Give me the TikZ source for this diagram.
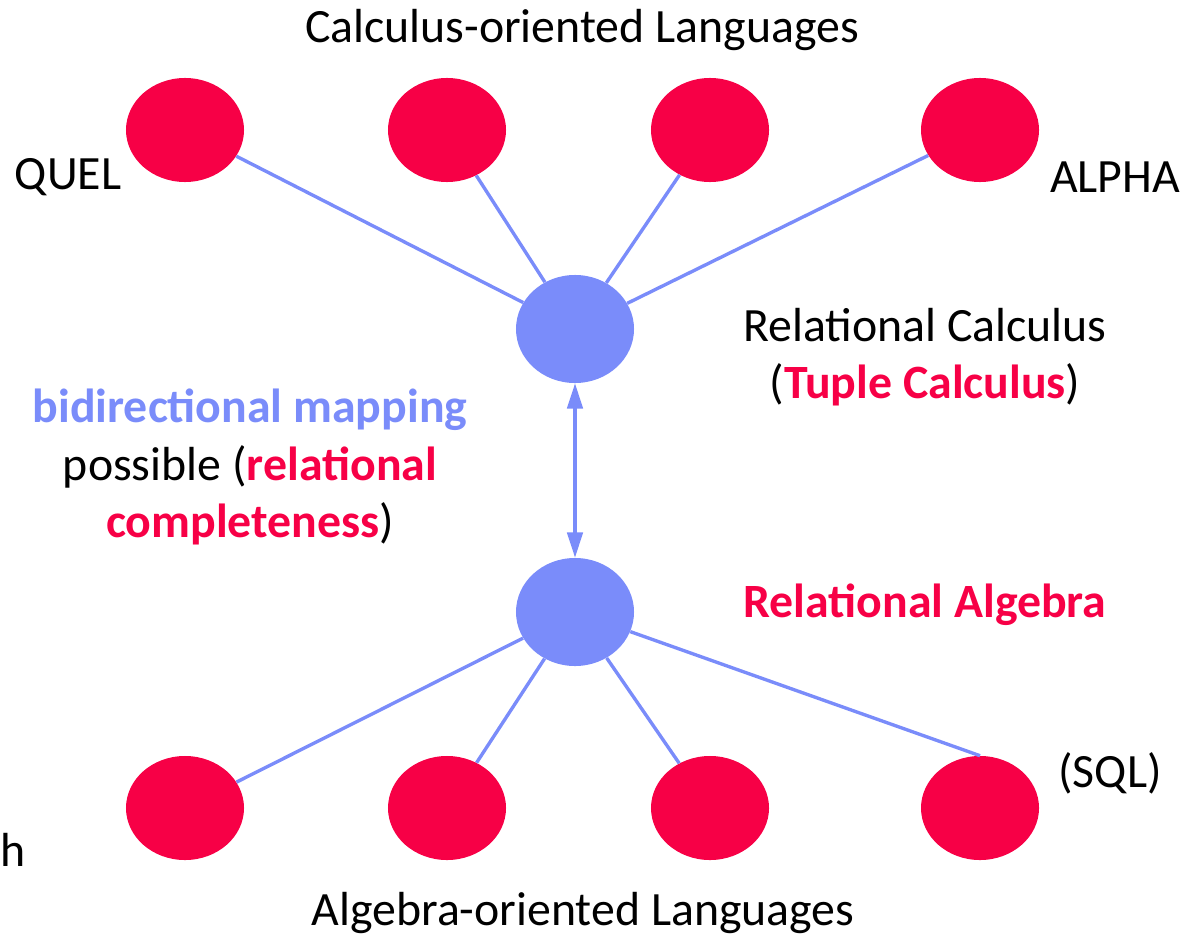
\documentclass[tikz,border=0pt]{standalone}
\usepackage{fontspec}
\setmainfont{Carlito}
\usetikzlibrary{shapes.geometric,arrows.meta}
\definecolor{langred}{RGB}{247,0,70}
\definecolor{relblue}{RGB}{122,140,250}
\tikzset{
  lang/.style={ellipse, fill=langred, minimum width=2.95cm, minimum height=2.6cm, inner sep=0pt},
  rel/.style={ellipse, fill=relblue, minimum width=2.95cm, minimum height=2.7cm, inner sep=0pt},
  link/.style={relblue, line width=2.4pt},
  txt/.style={font=\fontsize{34}{41}\selectfont, align=center, inner sep=0pt}
}
\begin{document}
\begin{tikzpicture}[x=0.025cm, y=-0.025cm]
	\useasboundingbox (0,0) rectangle (1187,939);
	% calculus side
	\node[lang] (c1) at (185,130) {};
	\node[lang] (c2) at (447,130) {};
	\node[lang] (c3) at (710,130) {};
	\node[lang] (c4) at (980,130) {};
	\node[rel] (calc) at (575,329) {};
	% algebra side
	\node[rel] (alg) at (575,612) {};
	\node[lang] (a1) at (185,808) {};
	\node[lang] (a2) at (447,808) {};
	\node[lang] (a3) at (710,808) {};
	\node[lang] (a4) at (980,808) {};
	\draw[link] (calc) -- (c1);
	\draw[link] (calc) -- (c2);
	\draw[link] (calc) -- (c3);
	\draw[link] (calc) -- (c4);
	\draw[link] (alg) -- (a1);
	\draw[link] (alg) -- (a2);
	\draw[link] (alg) -- (a3);
	\draw[link] (alg) -- (a4.north);
	\draw[link, {Triangle[width=11pt,length=18pt]}-{Triangle[width=11pt,length=18pt]}] (calc) -- (alg);
	% labels
	\node[txt] (ctitle) at (582,30) {Calculus-oriented Languages};
	\node[txt] (quel) at (68,177) {QUEL};
	\node[txt] (alpha) at (1115,177) {ALPHA};
	\node[txt] (rcalc) at (925,357) {Relational Calculus\\(\textbf{\color{langred}Tuple Calculus})};
	\node[txt, text=langred, font=\fontsize{34}{41}\selectfont\bfseries] (ralg) at (925,605) {Relational Algebra};
	\node[txt] (sql) at (1110,773) {(SQL)};
	\node[txt] (map) at (250,467) {\textbf{\color{relblue}bidirectional mapping}\\possible (\textbf{\color{langred}relational}\\\textbf{\color{langred}completeness})};
	\node[txt, anchor=west] (frag) at (0,850) {h};
	\node[txt] (atitle) at (583,913) {Algebra-oriented Languages};
\end{tikzpicture}
\end{document}
